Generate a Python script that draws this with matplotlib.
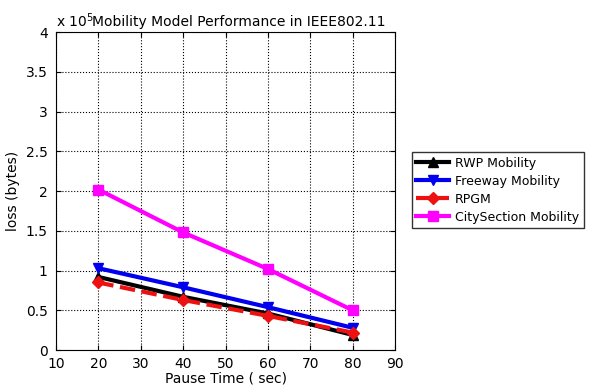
import numpy as np
import matplotlib.pyplot as plt

pause_time = [20, 40, 60, 80]
rwp = [0.92e5, 0.67e5, 0.46e5, 0.19e5]
freeway = [1.03e5, 0.79e5, 0.54e5, 0.28e5]
rpgm = [0.85e5, 0.63e5, 0.43e5, 0.22e5]
city = [2.02e5, 1.48e5, 1.02e5, 0.50e5]

fig = plt.figure(figsize=(5.95, 3.92), dpi=100)
ax = fig.add_axes([0.094, 0.107, 0.57, 0.811])

ax.plot(pause_time, rwp, color='black', lw=3, marker='^', ms=7, label='RWP Mobility')
ax.plot(pause_time, freeway, color='#0000ee', lw=3, marker='v', ms=7, label='Freeway Mobility')
ax.plot(pause_time, rpgm, color='#ee1111', lw=3, ls='--', marker='D', ms=6, label='RPGM')
ax.plot(pause_time, city, color='#ff00ff', lw=3, marker='s', ms=7, label='CitySection Mobility')

ax.set_xlim(10, 90)
ax.set_ylim(0, 4e5)
ax.set_xticks(np.arange(10, 91, 10))
ax.set_yticks(np.arange(0, 4.01e5, 0.5e5))
ax.set_yticklabels(['0', '0.5', '1', '1.5', '2', '2.5', '3', '3.5', '4'])
ax.grid(True, ls=':', color='black', lw=0.8)
ax.tick_params(direction='in', labelsize=10, top=True, right=True)
ax.tick_params(axis='x', pad=5)
ax.tick_params(axis='y', pad=6)
ax.set_xlabel('Pause Time ( sec)', fontsize=10, labelpad=0)
ax.set_ylabel('loss (bytes)', fontsize=10)
ax.text(0.0, 1.008, r'x 10$^5$', transform=ax.transAxes, fontsize=10, va='bottom', ha='left')
ax.text(0.105, 1.01, 'Mobility Model Performance in IEEE802.11', transform=ax.transAxes,
        fontsize=10, va='bottom', ha='left')

fig.legend(loc='upper left', bbox_to_anchor=(0.682, 0.627), fontsize=9,
           frameon=True, fancybox=False, edgecolor='black', handlelength=2.6,
           handletextpad=0.5, borderpad=0.35, labelspacing=0.4, markerscale=1.1)

plt.savefig('out.png', dpi=100)
